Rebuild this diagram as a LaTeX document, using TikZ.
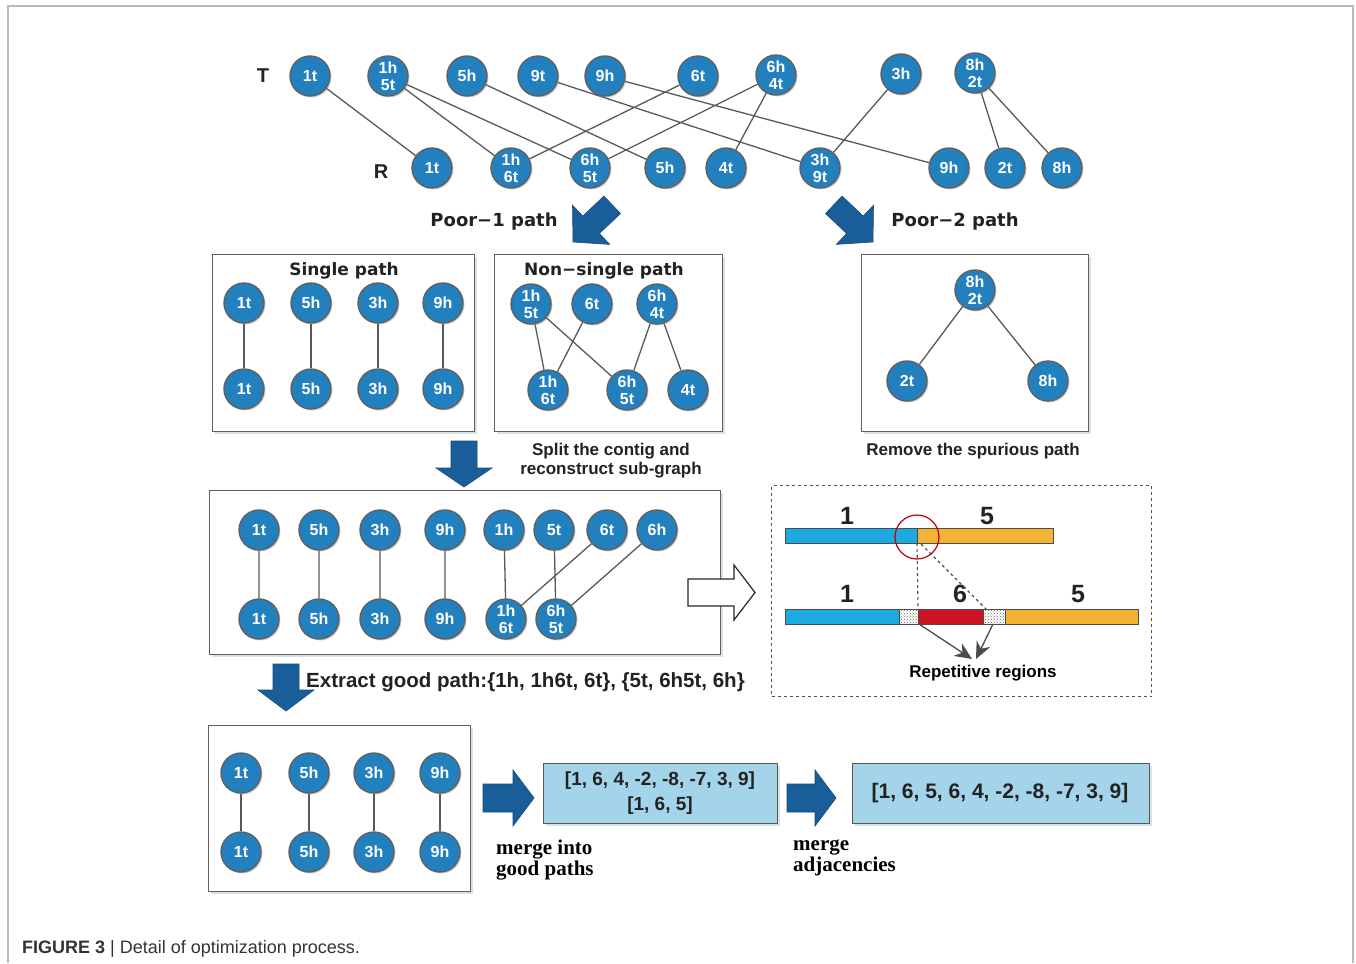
\documentclass[tikz,border=0pt]{standalone}
\usepackage{fontspec}
\setmainfont{Liberation Sans}
\newfontfamily\dvs{DejaVu Sans}
\newfontfamily\lserif{Liberation Serif}
\usetikzlibrary{shadows,patterns,arrows.meta}
\definecolor{nodeblue}{HTML}{2380BF}
\definecolor{arrblue}{HTML}{1A5E99}
\definecolor{boxblue}{HTML}{A4D4E9}
\definecolor{barblue}{HTML}{1EA9E1}
\definecolor{barorange}{HTML}{F2B236}
\definecolor{barred}{HTML}{CB1421}
\definecolor{txt}{HTML}{222222}
\pgfdeclarelayer{back}
\pgfdeclarelayer{bg}
\pgfsetlayers{back,bg,main}
\begin{document}
\begin{tikzpicture}[x=1pt,y=-1pt,
  nd/.style={circle, minimum size=40pt, inner sep=0pt, fill=nodeblue, draw=gray!75!black, line width=1.4pt, text=white,
    font=\bfseries\fontsize{16}{17}\selectfont, align=center,
    drop shadow={opacity=0.35, shadow xshift=1.5pt, shadow yshift=-1.5pt}},
  ed/.style={draw=gray!70!black, line width=1.3pt},
  framebox/.style={draw=gray!75!black, line width=1.2pt, fill=white, anchor=north west, inner sep=0pt,
    drop shadow={opacity=0.25, shadow xshift=2pt, shadow yshift=-2pt}},
  bluebox/.style={draw=gray!70!black, line width=1.2pt, fill=boxblue, anchor=north west, inner sep=0pt,
    drop shadow={opacity=0.25, shadow xshift=2pt, shadow yshift=-2pt}},
  blk/.style={fill=arrblue, draw=arrblue!80!black, line width=0.6pt},
  ttl/.style={text=txt, font=\dvs\bfseries\fontsize{17}{19}\selectfont},
  lbl/.style={text=txt, font=\bfseries\fontsize{17}{20}\selectfont, align=center},
  barlbl/.style={text=txt, font=\bfseries\fontsize{25}{26}\selectfont},
  barb/.style={draw=gray!60!black, line width=1pt},
  mrg/.style={text=black, font=\lserif\bfseries\fontsize{21}{21}\selectfont, align=left, anchor=north west, inner sep=0pt}
]
\useasboundingbox (0,0) rectangle (1356,963);
\draw[gray!55, line width=1.5pt] (8,963) -- (8,6) -- (1353,6) -- (1353,963);

% ---------- top graph ----------
\node[text=txt, font=\bfseries\fontsize{20}{22}\selectfont] (T) at (263,76) {T};
\node[text=txt, font=\bfseries\fontsize{20}{22}\selectfont] (R) at (381,172) {R};
\node[nd] (t1t)   at (310,76) {1t};
\node[nd] (t1h5t) at (388,76) {1h\\5t};
\node[nd] (t5h)   at (467,76) {5h};
\node[nd] (t9t)   at (538,76) {9t};
\node[nd] (t9h)   at (605,76) {9h};
\node[nd] (t6t)   at (698,76) {6t};
\node[nd] (t6h4t) at (776,75) {6h\\4t};
\node[nd] (t3h)   at (901,74) {3h};
\node[nd] (t8h2t) at (975,73) {8h\\2t};
\node[nd] (r1t)   at (432,168) {1t};
\node[nd] (r1h6t) at (511,168) {1h\\6t};
\node[nd] (r6h5t) at (590,168) {6h\\5t};
\node[nd] (r5h)   at (665,168) {5h};
\node[nd] (r4t)   at (726,168) {4t};
\node[nd] (r3h9t) at (820,168) {3h\\9t};
\node[nd] (r9h)   at (949,168) {9h};
\node[nd] (r2t)   at (1005,168) {2t};
\node[nd] (r8h)   at (1062,168) {8h};
\begin{pgfonlayer}{bg}
\draw[ed] (t1t)--(r1t) (t1h5t)--(r1h6t) (t1h5t)--(r6h5t) (t5h)--(r5h)
          (t9t)--(r3h9t) (t9h)--(r9h) (t6t)--(r1h6t) (t6h4t)--(r6h5t)
          (t6h4t)--(r4t) (t3h)--(r3h9t) (t8h2t)--(r2t) (t8h2t)--(r8h);
\end{pgfonlayer}

% ---------- poor arrows ----------
\node[ttl, font=\dvs\bfseries\fontsize{18}{20}\selectfont] (poor1) at (494,222) {Poor−1 path};
\node[ttl, font=\dvs\bfseries\fontsize{18}{20}\selectfont] (poor2) at (955,222) {Poor−2 path};
\fill[blk] (573,242) -- (609.7,244.4) -- (599.4,233.5) -- (620.5,213.5) -- (603.9,196.1) -- (582.8,216.1) -- (572.5,205.2) -- cycle;
\fill[blk] (873,242) -- (836.3,244.4) -- (846.6,233.5) -- (825.5,213.5) -- (842.1,196.1) -- (863.2,216.1) -- (873.5,205.2) -- cycle;

% ---------- middle boxes ----------
\begin{pgfonlayer}{back}
\node[framebox, minimum width=262pt, minimum height=177pt] (sbox) at (212,254) {};
\node[framebox, minimum width=228pt, minimum height=177pt] (nbox) at (494,254) {};
\node[framebox, minimum width=227pt, minimum height=177pt] (pbox) at (861,254) {};
\node[framebox, minimum width=511pt, minimum height=164pt] (cbox) at (209,490) {};
\node[framebox, minimum width=262pt, minimum height=166pt] (ebox) at (208,725) {};
\end{pgfonlayer}
\node[ttl] (stitle) at (344,271) {Single path};
\node[ttl] (ntitle) at (604,271) {Non−single path};

\node[nd] (sa1) at (244,303) {1t};
\node[nd] (sa2) at (311,303) {5h};
\node[nd] (sa3) at (378,303) {3h};
\node[nd] (sa4) at (443,303) {9h};
\node[nd] (sb1) at (244,389) {1t};
\node[nd] (sb2) at (311,389) {5h};
\node[nd] (sb3) at (378,389) {3h};
\node[nd] (sb4) at (443,389) {9h};

\node[nd] (ns1) at (531,304) {1h\\5t};
\node[nd] (ns2) at (592,304) {6t};
\node[nd] (ns3) at (657,304) {6h\\4t};
\node[nd] (ns4) at (548,390) {1h\\6t};
\node[nd] (ns5) at (627,390) {6h\\5t};
\node[nd] (ns6) at (688,390) {4t};

\node[nd] (p8h2t) at (975,290) {8h\\2t};
\node[nd] (p2t) at (907,381) {2t};
\node[nd] (p8h) at (1048,381) {8h};

\begin{pgfonlayer}{bg}
\draw[ed] (sa1)--(sb1) (sa2)--(sb2) (sa3)--(sb3) (sa4)--(sb4);
\draw[ed] (ns1)--(ns4) (ns1)--(ns5) (ns2)--(ns4) (ns3)--(ns5) (ns3)--(ns6);
\draw[ed] (p8h2t)--(p2t) (p8h2t)--(p8h);
\end{pgfonlayer}

\node[lbl] (split) at (611,461) {Split the contig and\\[-1pt]reconstruct sub-graph};
\node[lbl] (remove) at (973,451) {Remove the spurious path};

% down arrow 1
\fill[blk] (451,441) -- (477,441) -- (477,468) -- (492,468) -- (464,487) -- (436,468) -- (451,468) -- cycle;

% ---------- box 3 ----------
\node[nd] (c1) at (259,530) {1t};
\node[nd] (c2) at (319,530) {5h};
\node[nd] (c3) at (380,530) {3h};
\node[nd] (c4) at (445,530) {9h};
\node[nd] (c5) at (504,530) {1h};
\node[nd] (c6) at (554,530) {5t};
\node[nd] (c7) at (607,530) {6t};
\node[nd] (c8) at (657,530) {6h};
\node[nd] (d1) at (259,619) {1t};
\node[nd] (d2) at (319,619) {5h};
\node[nd] (d3) at (380,619) {3h};
\node[nd] (d4) at (445,619) {9h};
\node[nd] (d5) at (506,619) {1h\\6t};
\node[nd] (d6) at (556,619) {6h\\5t};
\begin{pgfonlayer}{bg}
\draw[ed] (c1)--(d1) (c2)--(d2) (c3)--(d3) (c4)--(d4) (c5)--(d5) (c6)--(d6) (c7)--(d5) (c8)--(d6);
\end{pgfonlayer}

% white arrow
\draw[fill=white, draw=black!85, line width=1.2pt] (688,579) -- (734,579) -- (734,565) -- (755,592.5) -- (734,620) -- (734,606) -- (688,606) -- cycle;

% ---------- repetitive regions ----------
\node[draw=gray!65!black, dashed, line width=1.2pt, minimum width=380pt, minimum height=211pt, anchor=north west, inner sep=0pt] (dbox) at (771,485) {};
\node[barlbl] (l1a) at (847,516) {1};
\node[barlbl] (l5a) at (987,516) {5};
\node[barlbl] (l1b) at (847,594) {1};
\node[barlbl] (l6b) at (960,594) {6};
\node[barlbl] (l5b) at (1078,594) {5};
\filldraw[barb, fill=barblue] (785,528) rectangle (917,543);
\filldraw[barb, fill=barorange] (917,528) rectangle (1053,543);
\filldraw[barb, fill=barblue] (785,609) rectangle (899,624);
\filldraw[barb, fill=white] (899,609) rectangle (918,624);
\fill[pattern=crosshatch dots, pattern color=black!60] (899,609) rectangle (918,624);
\filldraw[barb, fill=barred] (918,609) rectangle (983,624);
\filldraw[barb, fill=white] (983,609) rectangle (1005,624);
\fill[pattern=crosshatch dots, pattern color=black!60] (983,609) rectangle (1005,624);
\draw[barb, fill=none] (899,609) rectangle (918,624) (983,609) rectangle (1005,624);
\filldraw[barb, fill=barorange] (1005,609) rectangle (1138,624);
\draw[red!75!black, line width=1.2pt] (917,537) circle (22);
\draw[dashed, gray!60!black, line width=1.1pt] (917,543) -- (918,609);
\draw[dashed, gray!60!black, line width=1.1pt] (921,544) -- (986,609);
\node[text=black, font=\bfseries\fontsize{17}{20}\selectfont] (rep) at (983,673) {Repetitive regions};
\coordinate (ra) at (919,624);
\coordinate (rb) at (993,624);
\draw[gray!60!black, line width=1.3pt, -{Stealth[length=17pt,width=15pt]}] (ra) -- (972,659);
\draw[gray!60!black, line width=1.3pt, -{Stealth[length=17pt,width=15pt]}] (rb) -- (976,659);

% ---------- extract ----------
\fill[blk] (273,664) -- (299,664) -- (299,690) -- (314,690) -- (286,711) -- (258,690) -- (273,690) -- cycle;
\node[anchor=west, inner sep=0pt, text=txt, font=\bfseries\fontsize{20.5}{22}\selectfont] (extract) at (306,682) {Extract good path:\{1h, 1h6t, 6t\}, \{5t, 6h5t, 6h\}};

% ---------- box 4 ----------
\node[nd] (e1) at (241,773) {1t};
\node[nd] (e2) at (309,773) {5h};
\node[nd] (e3) at (374,773) {3h};
\node[nd] (e4) at (440,773) {9h};
\node[nd] (f1) at (241,852) {1t};
\node[nd] (f2) at (309,852) {5h};
\node[nd] (f3) at (374,852) {3h};
\node[nd] (f4) at (440,852) {9h};
\begin{pgfonlayer}{bg}
\draw[ed] (e1)--(f1) (e2)--(f2) (e3)--(f3) (e4)--(f4);
\end{pgfonlayer}

% ---------- merge ----------
\fill[blk] (483,784) -- (513,784) -- (513,770) -- (534,798) -- (513,826) -- (513,812) -- (483,812) -- cycle;
\fill[blk] (787,784) -- (815,784) -- (815,770) -- (836,798) -- (815,826) -- (815,812) -- (787,812) -- cycle;
\node[bluebox, minimum width=234pt, minimum height=60pt] (m1) at (543,763) {};
\node[bluebox, minimum width=297pt, minimum height=60pt] (m2) at (852,763) {};
\node[text=txt, font=\bfseries\fontsize{19}{25}\selectfont, align=center] (m1t) at (660,793) {[1, 6, 4, -2, -8, -7, 3, 9]\\{}[1, 6, 5]};
\node[text=txt, font=\bfseries\fontsize{21}{24}\selectfont] (m2t) at (1000,793) {[1, 6, 5, 6, 4, -2, -8, -7, 3, 9]};
\node[mrg] (mg1) at (496,840) {merge into\\good paths};
\node[mrg] (mg2) at (793,840) {merge\\adjacencies};

% ---------- caption ----------
\node[anchor=base west, inner sep=0pt, text=black!80, font=\fontsize{18}{20}\selectfont] (cap) at (22,953) {\textbf{FIGURE 3} | Detail of optimization process.};
\end{tikzpicture}
\end{document}
